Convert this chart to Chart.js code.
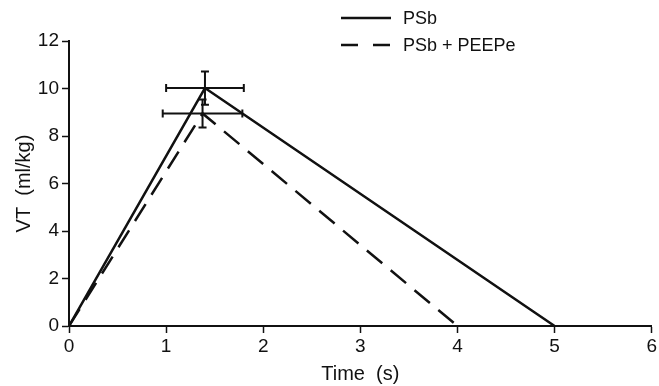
<!DOCTYPE html>
<html>
<head>
<meta charset="utf-8">
<script src="https://cdn.jsdelivr.net/npm/chart.js@4"></script>
<style>
  html, body { margin:0; padding:0; background:#fff; }
  #wrap { width:659px; height:386px; }
</style>
</head>
<body>
<div id="wrap"><canvas id="vt-chart"></canvas></div>
<script>
// values
const timePSb = [0, 1.40, 5];
const vtPSb = [0, 10.02, 0];
const timePEEP = [0, 1.375, 4];
const vtPEEP = [0, 8.95, 0];

// error bars at the peaks (x = time, y = volume)
const peakIndex = 1;
const errTimePSb = 0.40;
const errVtPSb = 0.70;
const errTimePEEP = 0.41;
const errVtPEEP = 0.59;

const seriesNames = ["PSb", "PSb + PEEPe"];
const xTicks = [0, 1, 2, 3, 4, 5, 6];
const yTicks = [0, 2, 4, 6, 8, 10, 12];

const ink = "#111";
const fontFam = "'Liberation Sans', Arial, Helvetica, sans-serif";

const toPoints = (xs, ys) => xs.map((x, i) => ({ x: x, y: ys[i] }));

const errorBars = {
  id: "errorBars",
  afterDatasetsDraw(chart) {
    const ctx = chart.ctx;
    const xs = chart.scales.x, ys = chart.scales.y;
    const errs = [[errTimePSb, errVtPSb], [errTimePEEP, errVtPEEP]];
    chart.data.datasets.forEach((ds, i) => {
      const p = ds.data[peakIndex];
      const px = xs.getPixelForValue(p.x), py = ys.getPixelForValue(p.y);
      const x0 = xs.getPixelForValue(p.x - errs[i][0]);
      const x1 = xs.getPixelForValue(p.x + errs[i][0]);
      const y0 = ys.getPixelForValue(p.y + errs[i][1]);
      const y1 = ys.getPixelForValue(p.y - errs[i][1]);
      ctx.save();
      ctx.strokeStyle = ink;
      ctx.lineWidth = 2;
      ctx.beginPath();
      ctx.moveTo(x0, py); ctx.lineTo(x1, py);
      ctx.moveTo(x0, py - 4); ctx.lineTo(x0, py + 4);
      ctx.moveTo(x1, py - 4); ctx.lineTo(x1, py + 4);
      ctx.moveTo(px, y0); ctx.lineTo(px, y1);
      ctx.moveTo(px - 4, y0); ctx.lineTo(px + 4, y0);
      ctx.moveTo(px - 4, y1); ctx.lineTo(px + 4, y1);
      ctx.stroke();
      ctx.restore();
    });
  }
};

const cornerLegend = {
  id: "cornerLegend",
  afterDraw(chart) {
    const ctx = chart.ctx;
    ctx.save();
    ctx.font = "18px " + fontFam;
    ctx.fillStyle = ink;
    ctx.textBaseline = "middle";
    chart.data.datasets.forEach((ds, i) => {
      const y = 18 + i * 27;
      ctx.strokeStyle = ink;
      ctx.lineWidth = 2.5;
      ctx.setLineDash(ds.borderDash ? [17, 15] : []);
      ctx.beginPath();
      ctx.moveTo(341, y); ctx.lineTo(391, y);
      ctx.stroke();
      ctx.setLineDash([]);
      ctx.fillText(ds.label, 403, y + 1);
    });
    ctx.restore();
  }
};

new Chart(document.getElementById("vt-chart"), {
  type: "scatter",
  data: {
    datasets: [
      {
        label: seriesNames[0],
        data: toPoints(timePSb, vtPSb),
        showLine: true,
        borderColor: ink,
        borderWidth: 2.5,
        pointRadius: 0,
        fill: false
      },
      {
        label: seriesNames[1],
        data: toPoints(timePEEP, vtPEEP),
        showLine: true,
        borderColor: ink,
        borderWidth: 2.5,
        borderDash: [20, 11],
        pointRadius: 0,
        fill: false
      }
    ]
  },
  plugins: [errorBars, cornerLegend],
  options: {
    responsive: true,
    maintainAspectRatio: false,
    animation: false,
    layout: { padding: { top: 41, right: 7, left: 0, bottom: 0 } },
    plugins: {
      legend: { display: false },
      tooltip: { enabled: false }
    },
    scales: {
      x: {
        type: "linear",
        min: 0,
        max: 6,
        afterFit: (s) => { s.height = 60; },
        afterBuildTicks: (s) => { s.ticks = xTicks.map(v => ({ value: v })); },
        grid: { drawOnChartArea: false, tickLength: 7, tickColor: ink, tickWidth: 1.5 },
        border: { color: ink, width: 2 },
        ticks: { color: ink, font: { size: 19, family: fontFam }, padding: 2, maxRotation: 0 },
        title: { display: true, text: "Time  (s)", color: ink, font: { size: 20, family: fontFam }, padding: { top: 0, bottom: 0 } }
      },
      y: {
        min: 0,
        max: 12,
        afterFit: (s) => { s.width = 69; },
        afterBuildTicks: (s) => { s.ticks = yTicks.map(v => ({ value: v })); },
        grid: { drawOnChartArea: false, tickLength: 7, tickColor: ink, tickWidth: 1.5 },
        border: { color: ink, width: 2 },
        ticks: { color: ink, font: { size: 19, family: fontFam }, padding: 3 },
        title: { display: true, text: "VT  (ml/kg)", color: ink, font: { size: 20, family: fontFam }, padding: { top: 12, bottom: 0 } }
      }
    }
  }
});
</script>
</body>
</html>
